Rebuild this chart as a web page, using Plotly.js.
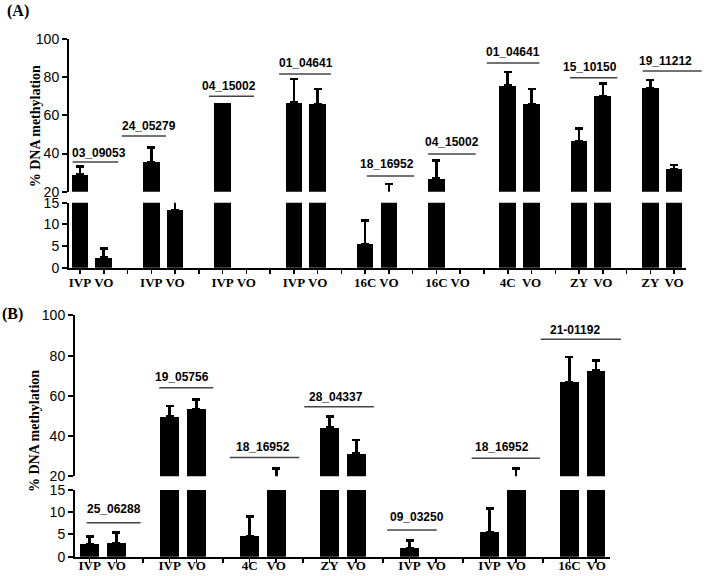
<!DOCTYPE html>
<html><head><meta charset="utf-8">
<script src="https://cdn.plot.ly/plotly-3.0.1.min.js"></script>
<style>html,body{margin:0;padding:0;background:#fff}#chart{width:704px;height:576px}</style>
</head><body><div id="chart"></div>
<script>
// ---------- Panel A data ----------
const groupsA = ['03_09053','24_05279','04_15002','01_04641','18_16952','04_15002','01_04641','15_10150','19_11212'];
const firstLabelsA = ['IVP','IVP','IVP','IVP','16C','16C','4C','ZY','ZY'];
const secondLabelsA = ['VO','VO','VO','VO','VO','VO','VO','VO','VO'];
const firstValuesA = [28.9, 35.4, 66.7, 66.7, 5.5, 26.8, 75.6, 46.6, 74.3];
const firstErrorsA = [4.2, 7.7, null, 12.5, 5.4, 9.7, 7.2, 6.7, 4.3];
const secondValuesA = [2.3, 13.2, 0, 65.9, 18, 0, 65.9, 70.2, 31.9];
const secondErrorsA = [2.1, 2.8, null, 7.9, 6.0, null, 7.9, 6.7, 2.1];

// ---------- Panel B data ----------
const groupsB = ['25_06288','19_05756','18_16952','28_04337','09_03250','18_16952','21-01192'];
const firstLabelsB = ['IVP','IVP','4C','ZY','IVP','IVP','16C'];
const secondLabelsB = ['VO','VO','VO','VO','VO','VO','VO'];
const firstValuesB = [2.85, 49.7, 4.65, 44.2, 1.9, 5.6, 66.7];
const firstErrorsB = [1.65, 5.3, 4.45, 5.5, 1.7, 5.3, 12.7];
const secondValuesB = [3.0, 53.3, 18, 31.3, 0, 18, 72.5];
const secondErrorsB = [2.4, 5.0, 5.8, 6.7, null, 5.8, 5.2];

// ---------- group label placement (axis units): [x0, x1, lineY, textX, textY, segment] ----------
const labelPlaceA = [
  [-0.31, 1.61, 35.6, 0.80, 40.3, 'upper'],
  [1.76, 3.62, 49.2, 2.90, 54.5, 'upper'],
  [5.43, 7.32, 70.1, 6.27, 75.5, 'upper'],
  [8.38, 10.56, 81.8, 9.51, 87.6, 'upper'],
  [12.07, 14.06, 28.2, 12.92, 34.6, 'upper'],
  [14.65, 16.65, 39.8, 15.64, 45.9, 'upper'],
  [17.12, 19.33, 87.6, 18.22, 93.3, 'upper'],
  [20.62, 22.61, 79.8, 21.46, 85.6, 'upper'],
  [23.68, 26.16, 83.4, 24.62, 88.6, 'upper']
];
const labelPlaceB = [
  [-0.11, 1.91, 7.64, 0.91, 10.65, 'lower'],
  [2.61, 4.64, 64.1, 3.48, 69.6, 'upper'],
  [5.26, 7.86, 29.3, 6.50, 34.7, 'upper'],
  [8.05, 10.66, 54.6, 9.26, 59.6, 'upper'],
  [11.16, 13.02, 6.0, 12.28, 8.85, 'lower'],
  [14.33, 16.89, 29.0, 15.45, 34.6, 'upper'],
  [16.92, 19.93, 88.2, 18.21, 93.0, 'upper']
];

// ---------- panel geometry ----------
const panels = [
  {
    groups: groupsA, first: firstValuesA, firstErr: firstErrorsA, second: secondValuesA, secondErr: secondErrorsA,
    firstLab: firstLabelsA, secondLab: secondLabelsA, place: labelPlaceA,
    xName: 'x', lowName: 'y', upName: 'y2',
    xDomain: [0.098, 0.9744], xRange: [-0.463, 25.5],
    lowDomain: [0.5352, 0.6481], upDomain: [0.6672, 0.9318],
    tag: '(A)', tagPos: [0.026, 0.981], titlePos: [0.05, 0.781], xStandoff: -2
  },
  {
    groups: groupsB, first: firstValuesB, firstErr: firstErrorsB, second: secondValuesB, secondErr: secondErrorsB,
    firstLab: firstLabelsB, secondLab: secondLabelsB, place: labelPlaceB,
    xName: 'x2', lowName: 'y3', upName: 'y4',
    xDomain: [0.1065, 0.8665], xRange: [-0.55, 19.52],
    lowDomain: [0.0335, 0.1493], upDomain: [0.1731, 0.4523],
    tag: '(B)', tagPos: [0.018, 0.455], titlePos: [0.05, 0.252], xStandoff: -8
  }
];
const lowRange = [0, 15], upRange = [20, 100];

const traces = [];
const layout = {
  width: 704, height: 576,
  margin: {l: 0, r: 0, t: 0, b: 0},
  paper_bgcolor: '#fff', plot_bgcolor: 'rgba(0,0,0,0)',
  showlegend: false, bargap: 0,
  shapes: [], annotations: []
};

function axKey(name) { return name.replace(/^x/, 'xaxis').replace(/^y/, 'yaxis'); }
function toPaper(v, range, domain) {
  return domain[0] + (v - range[0]) / (range[1] - range[0]) * (domain[1] - domain[0]);
}

const yCommon = {
  showline: true, linecolor: '#000', linewidth: 2,
  ticks: 'outside', ticklen: 5, tickwidth: 2, tickcolor: '#000',
  showgrid: false, zeroline: false, fixedrange: true,
  tickfont: {family: 'Liberation Sans, Arial, sans-serif', size: 14, color: '#000'}
};

panels.forEach(p => {
  const xs = [], ys = [], es = [], tickvals = [], ticktext = [];
  p.groups.forEach((g, i) => {
    xs.push(3 * i, 3 * i + 1);
    ys.push(p.first[i], p.second[i]);
    // a missing error means no error bar is drawn at all
    es.push(p.firstErr[i] === null ? NaN : p.firstErr[i], p.secondErr[i] === null ? NaN : p.secondErr[i]);
  });
  const nTicks = Math.floor(p.xRange[1]) + 1;
  for (let t = 0; t < nTicks; t++) {
    const gi = Math.floor(t / 3), r = t % 3;
    tickvals.push(t);
    ticktext.push(r === 0 ? p.firstLab[gi] : (r === 1 ? p.secondLab[gi] : ''));
  }
  const zeros = es.map(e => isNaN(e) ? NaN : 0);
  [p.lowName, p.upName].forEach(yn => {
    traces.push({
      type: 'bar', x: xs, y: ys, xaxis: p.xName, yaxis: yn, width: 0.7,
      marker: {color: '#000', line: {width: 0}},
      error_y: {type: 'data', symmetric: false, array: es, arrayminus: zeros,
                color: '#000', thickness: 2.6, width: 4},
      hoverinfo: 'skip'
    });
  });
  layout[axKey(p.xName)] = {
    domain: p.xDomain, range: p.xRange, anchor: p.lowName,
    showline: true, linecolor: '#000', linewidth: 2,
    ticks: 'outside', ticklen: 4, tickwidth: 1.5, tickcolor: '#000',
    tickvals: tickvals, ticktext: ticktext, tickangle: 0,
    ticklabelstandoff: p.xStandoff,
    showgrid: false, zeroline: false, fixedrange: true,
    tickfont: {family: 'Liberation Serif, Times New Roman, serif', size: 13, color: '#000', weight: 'bold'}
  };
  layout[axKey(p.lowName)] = Object.assign({}, yCommon, {
    domain: p.lowDomain, range: lowRange, tickvals: [0, 5, 10, 15], anchor: p.xName
  });
  layout[axKey(p.upName)] = Object.assign({}, yCommon, {
    domain: p.upDomain, range: upRange, tickvals: [20, 40, 60, 80, 100], anchor: p.xName
  });

  // group labels and their lines
  p.place.forEach((pl, i) => {
    const dom = pl[5] === 'upper' ? p.upDomain : p.lowDomain;
    const rng = pl[5] === 'upper' ? upRange : lowRange;
    const ly = toPaper(pl[2], rng, dom);
    layout.shapes.push({
      type: 'line', xref: 'paper', yref: 'paper',
      x0: toPaper(pl[0], p.xRange, p.xDomain), x1: toPaper(pl[1], p.xRange, p.xDomain),
      y0: ly, y1: ly, line: {color: '#444', width: 1.5}
    });
    layout.annotations.push({
      xref: 'paper', yref: 'paper',
      x: toPaper(pl[3], p.xRange, p.xDomain), y: toPaper(pl[4], rng, dom),
      xanchor: 'center', yanchor: 'middle', showarrow: false,
      text: p.groups[i],
      font: {family: 'Liberation Sans, Arial, sans-serif', size: 12, color: '#000', weight: 'bold'}
    });
  });

  // axis title and panel tag
  layout.annotations.push({
    xref: 'paper', yref: 'paper', x: p.titlePos[0], y: p.titlePos[1],
    xanchor: 'center', yanchor: 'middle', showarrow: false, textangle: -90,
    text: '% DNA methylation',
    font: {family: 'Liberation Serif, Times New Roman, serif', size: 14, color: '#000', weight: 'bold'}
  });
  layout.annotations.push({
    xref: 'paper', yref: 'paper', x: p.tagPos[0], y: p.tagPos[1],
    xanchor: 'center', yanchor: 'middle', showarrow: false,
    text: p.tag,
    font: {family: 'Liberation Serif, Times New Roman, serif', size: 16, color: '#000', weight: 'bold'}
  });
});

Plotly.newPlot('chart', traces, layout, {displayModeBar: false, staticPlot: true});
</script></body></html>
